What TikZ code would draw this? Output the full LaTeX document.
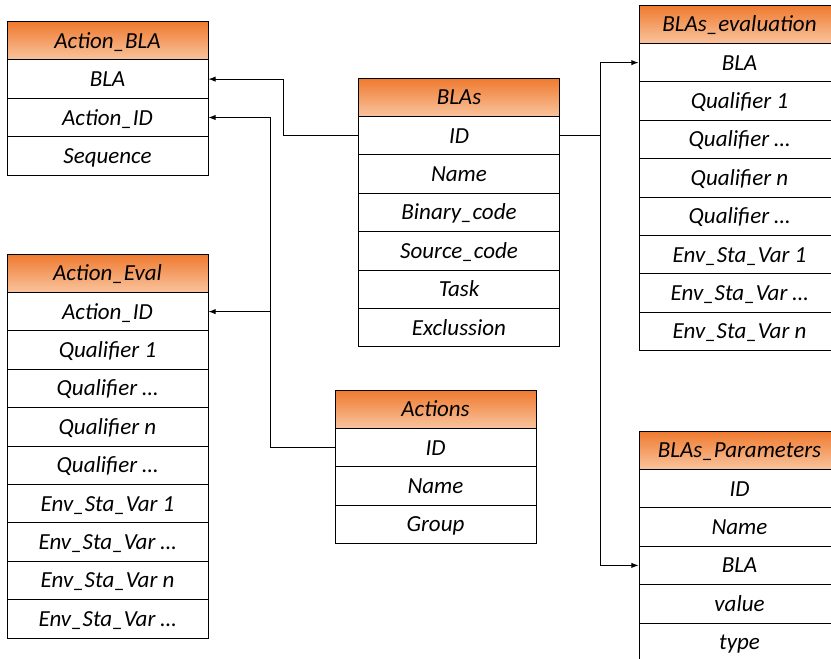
\documentclass[tikz,border=0pt]{standalone}
\usepackage{fontspec}
\setmainfont{Carlito}
\usepackage{tikz}
\usepackage{xcolor}
\usetikzlibrary{positioning, arrows.meta, calc}

\definecolor{headtop}{RGB}{239,121,46}
\definecolor{headbot}{RGB}{249,196,158}

\begin{document}
\begin{tikzpicture}[
  x=1pt, y=-1pt,
  >=Latex,
  every node/.style={font=\itshape\fontsize{23}{26}\selectfont},
  field/.style={draw, line width=1pt, fill=white, minimum width=201pt, minimum height=38.4pt, inner sep=0pt, text height=16pt, text depth=1pt},
  head/.style={field, top color=headtop, bottom color=headbot},
  link/.style={->, line width=0.9pt}
]
\useasboundingbox (0,0) rectangle (831,659);

% Action_BLA
\node[head] (ab) at (107.5,40.7) {Action\_BLA};
\foreach \t [count=\i] in {BLA, Action\_ID, Sequence}
  \node[field] (ab\i) at (107.5,{40.7+38.4*\i}) {\t};

% Action_Eval
\node[head] (ae) at (107.5,273.2) {Action\_Eval};
\foreach \t [count=\i] in {Action\_ID, Qualifier 1, Qualifier …, Qualifier n, Qualifier …,
    Env\_Sta\_Var 1, Env\_Sta\_Var …, Env\_Sta\_Var n, Env\_Sta\_Var …}
  \node[field] (ae\i) at (107.5,{273.2+38.4*\i}) {\t};

% BLAs
\node[head] (bl) at (459,97.2) {BLAs};
\foreach \t [count=\i] in {ID, Name, Binary\_code, Source\_code, Task, Exclussion}
  \node[field] (bl\i) at (459,{97.2+38.4*\i}) {\t};

% Actions
\node[head] (ac) at (435.5,409.2) {Actions};
\foreach \t [count=\i] in {ID, Name, Group}
  \node[field] (ac\i) at (435.5,{409.2+38.4*\i}) {\t};

% BLAs_evaluation
\node[head] (be) at (739.5,24.2) {BLAs\_evaluation};
\foreach \t [count=\i] in {BLA, Qualifier 1, Qualifier …, Qualifier n, Qualifier …,
    Env\_Sta\_Var 1, Env\_Sta\_Var …, Env\_Sta\_Var n}
  \node[field] (be\i) at (739.5,{24.2+38.4*\i}) {\t};

% BLAs_Parameters
\node[head] (bp) at (739.5,450.2) {BLAs\_Parameters};
\foreach \t [count=\i] in {ID, Name, BLA, value, type}
  \node[field] (bp\i) at (739.5,{450.2+38.4*\i}) {\t};

% Links
\draw[link] (bl1.west) -- ++(-75,0) |- (ab1.east);
\draw[link] (ac1.west) -- ++(-64,0) |- (ab2.east);
\draw[link] (ac1.west) -- ++(-64,0) |- (ae1.east);
\draw[link] (bl1.east) -- ++(40,0) |- (be1.west);
\draw[link] (bl1.east) -- ++(40,0) |- (bp3.west);

\end{tikzpicture}
\end{document}
